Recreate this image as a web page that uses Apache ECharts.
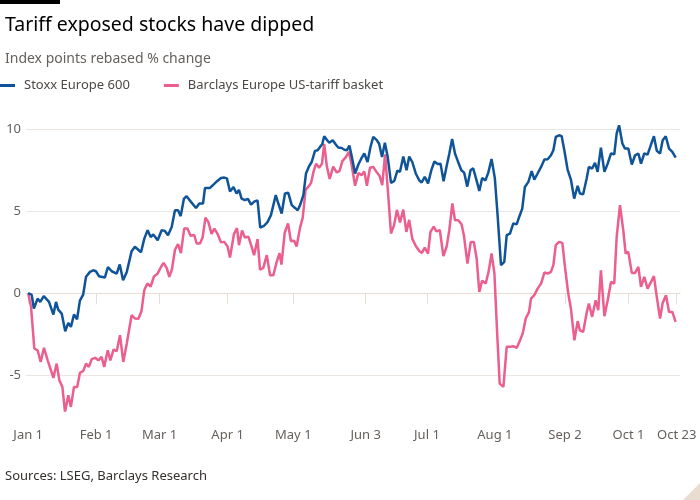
<!DOCTYPE html>
<html>
<head>
<meta charset="utf-8">
<script src="https://cdn.jsdelivr.net/npm/echarts@6/dist/echarts.min.js"></script>
<style>
html,body{margin:0;padding:0;background:#fff;}
#chart{width:700px;height:500px;}
</style>
</head>
<body>
<div id="chart"></div>
<script>
// Day offsets from 1 Jan 2024 for axis ticks
var tickDays = [0, 31, 60, 91, 121, 154, 182, 213, 245, 274, 296];
var tickLabels = ['Jan 1', 'Feb 1', 'Mar 1', 'Apr 1', 'May 1', 'Jun 3', 'Jul 1', 'Aug 1', 'Sep 2', 'Oct 1', 'Oct 23'];
var yTicks = [-5, 0, 5, 10];

// Stoxx Europe 600 (day offset, % change)
var stoxxDays = [0,1.6,2.6,4.3,5.5,7.1,9.5,10.4,11.5,12.7,13.7,15.3,16.9,18.3,19.5,20.9,22.3,23.6,25.1,26.4,28.2,29.7,30.9,32.3,35.0,36.4,38.1,40.4,41.8,43.3,45.0,47.2,48.7,51.5,53.0,54.5,55.9,57.1,59.1,60.9,62.4,63.8,65.5,67.0,68.4,69.6,71.1,72.3,74.3,76.6,78.1,79.8,80.7,83.0,84.8,86.2,88.0,89.5,90.7,92.1,93.7,95.1,96.2,97.4,98.9,100.3,101.7,103.3,104.7,105.9,107.6,109.3,110.8,113.0,114.1,115.7,117.2,118.7,120.3,121.8,123.0,124.1,125.6,126.8,128.2,129.4,130.9,132.1,133.2,134.2,135.1,136.2,137.4,139.0,140.3,141.5,143.1,144.3,145.5,146.6,147.6,149.2,150.7,152.0,153.4,154.9,156.2,157.5,159.1,160.2,161.5,162.8,164.1,165.6,167.1,168.5,169.7,171.2,172.7,173.9,175.3,176.9,178.4,179.6,181.0,182.5,184.0,185.4,186.9,188.2,189.6,191.0,192.2,193.5,194.8,196.1,197.7,199.0,200.4,201.9,203.1,204.7,205.9,207.2,208.7,210.0,211.5,213.0,214.3,215.8,217.3,218.4,219.9,221.4,223.0,224.1,225.5,226.7,228.3,229.8,231.0,232.5,234.1,235.6,237.1,238.6,239.7,240.8,242.3,243.5,244.7,246.2,247.7,249.2,250.8,251.8,253.3,254.9,255.9,257.4,258.7,259.9,261.4,263.0,264.5,266.0,267.5,268.6,269.7,271.2,272.4,273.9,275.5,277.0,278.5,279.7,281.2,282.7,284.3,285.6,286.9,288.4,289.6,291.0,292.5,294.0,295.5];
var stoxxValues = [0,-0.1,-0.93,-0.33,-0.53,-0.18,-0.53,-0.6,-1.3,-0.53,-1.0,-1.24,-2.32,-1.81,-2.05,-1.3,-1.59,-0.45,-0.08,1.0,1.3,1.4,1.34,1.04,0.96,1.6,1.34,1.2,1.75,0.79,1.3,2.56,2.83,2.5,3.33,3.84,3.43,3.58,3.23,3.84,3.8,3.54,4.04,5.06,5.06,4.7,5.77,5.91,5.57,5.2,5.47,5.47,6.42,6.42,6.65,6.83,7.03,7.05,7.0,6.2,6.48,6.08,6.3,5.77,5.67,5.75,5.4,5.6,5.65,4.0,4.1,4.35,4.76,5.98,5.5,4.86,6.08,6.12,5.37,5.2,5.06,5.37,5.98,7.3,7.74,8.0,8.68,8.72,8.92,9.08,9.57,9.37,9.17,9.33,9.08,8.88,8.85,8.75,8.72,9.0,8.4,7.3,7.85,8.2,8.52,8.0,8.9,9.53,9.33,9.1,8.3,9.17,8.3,6.73,6.85,7.48,7.4,8.33,7.5,8.33,8.0,7.3,6.9,6.75,7.1,6.7,7.5,8.03,7.88,7.9,6.83,7.75,8.5,9.41,8.52,8.05,7.5,7.35,6.5,7.5,7.62,6.85,6.23,7.02,6.88,7.35,8.18,7.0,4.65,1.71,1.91,3.54,3.64,4.25,4.21,4.65,5.16,6.48,6.79,7.44,6.93,7.3,7.7,8.15,8.17,8.41,8.72,9.53,9.63,9.57,8.72,7.54,6.93,5.77,6.55,6.08,6.04,7.0,7.7,7.6,7.95,7.4,8.88,7.4,7.9,8.52,8.47,9.74,10.24,9.13,8.82,8.82,7.85,8.41,8.52,7.9,8.52,8.45,9.08,9.57,8.68,8.52,9.33,9.57,8.82,8.62,8.27];

// Barclays Europe US-tariff basket (day offset, % change)
var basketDays = [0,1.3,2.8,4.3,5.7,7.2,8.9,10.4,11.5,13.0,14.2,15.6,16.8,18.3,19.5,20.9,22.4,23.6,25.1,26.4,27.7,29.0,30.5,32.0,33.5,34.7,36.3,37.5,39.0,40.4,41.9,43.4,45.0,47.2,48.7,50.3,51.7,53.0,54.4,55.9,57.4,59.0,60.6,61.8,63.2,64.4,65.6,67.0,68.4,69.7,71.2,72.7,74.1,75.8,76.9,78.4,79.6,80.9,82.2,83.7,85.0,86.5,88.0,89.5,91.0,92.1,93.9,95.3,96.2,97.6,98.9,100.5,101.9,103.1,104.7,105.8,107.3,108.9,110.4,111.9,113.3,114.7,115.6,117.1,118.6,119.9,121.4,122.5,124.1,125.3,126.6,127.8,129.1,130.3,131.4,132.8,134.1,135.1,136.3,137.6,139.2,140.8,142.1,143.4,144.9,146.4,147.6,149.2,150.7,152.2,153.4,154.6,156.0,157.5,159.1,160.4,161.6,162.9,164.1,165.6,167.0,168.3,169.7,171.2,172.6,173.9,175.3,176.9,178.5,179.7,181.0,182.5,183.6,185.1,186.3,187.9,189.5,191.0,192.2,193.6,194.8,196.3,197.8,198.9,200.5,202.0,203.4,204.7,205.9,207.2,208.8,210.2,211.5,212.8,214.0,215.2,216.9,218.4,219.9,221.4,223.0,224.5,225.7,227.1,228.6,229.5,231.0,232.5,234.1,235.6,237.1,238.6,239.7,240.8,242.3,243.8,245.0,246.5,247.7,249.3,250.8,251.8,253.3,254.9,255.9,257.4,259.0,260.2,261.4,263.0,264.5,266.0,267.5,268.6,270.1,271.6,272.7,273.9,275.5,277.0,278.5,279.7,281.2,282.7,284.3,285.6,286.9,288.4,289.6,291.1,292.5,294.0,295.5];
var basketValues = [0,-0.83,-3.37,-3.48,-4.19,-3.33,-4.09,-4.7,-5.16,-4.29,-5.3,-5.71,-7.24,-6.22,-6.93,-5.71,-5.71,-4.86,-4.74,-4.29,-4.49,-4.02,-3.94,-4.09,-3.88,-4.49,-3.48,-4.09,-3.43,-3.54,-2.56,-4.19,-3.07,-1.34,-1.54,-1.56,-1.1,0.2,0.59,0.41,1.02,1.18,1.6,1.85,1.55,1.0,1.45,2.65,3.0,2.44,3.94,3.94,3.5,3.55,3.03,3.03,3.4,4.6,4.35,3.62,3.94,3.6,3.1,3.13,2.85,2.18,3.6,3.97,2.93,3.82,3.4,3.45,2.87,2.32,3.3,1.44,1.55,2.32,1.1,1.1,1.85,2.44,1.75,3.7,4.25,3.18,3.2,2.85,4.0,4.6,6.3,6.48,6.72,7.45,7.9,7.65,7.9,9.1,7.75,6.97,7.72,7.37,7.45,8.05,8.28,8.62,7.85,6.55,7.32,7.2,7.43,6.55,7.65,7.7,7.37,7.15,6.59,8.47,6.38,3.64,4.15,5.08,4.32,5.1,3.74,4.47,3.33,2.88,2.57,2.46,2.78,2.42,3.74,4.06,3.77,3.84,2.26,2.85,3.84,5.47,4.45,4.45,4.2,3.5,1.81,3.13,3.13,2.1,0.08,0.77,0.59,1.35,2.42,1.2,-2.3,-5.51,-5.71,-3.27,-3.27,-3.23,-3.33,-2.87,-2.46,-1.54,-1.14,-0.33,-0.12,0.28,0.59,1.26,1.2,1.3,1.71,2.93,3.13,3.07,1.6,-0.02,-0.93,-2.87,-1.7,-2.26,-2.36,-1.2,-0.63,-1.44,-0.43,-1.04,1.4,-1.4,-0.43,0.69,0.59,3.43,5.37,3.84,2.42,2.52,1.24,1.24,1.6,0.39,1.0,0.28,0.69,1.04,-0.22,-1.54,-0.59,-0.12,-1.14,-1.14,-1.75];

function pairs(xs, ys) {
  var out = [];
  for (var i = 0; i < xs.length; i++) out.push([xs[i], ys[i]]);
  return out;
}

var FONT = 'Noto Sans';
var chart = echarts.init(document.getElementById('chart'), null, {renderer: 'canvas'});
chart.setOption({
  backgroundColor: '#ffffff',
  animation: false,
  textStyle: {fontFamily: FONT},
  title: [
    {text: 'Tariff exposed stocks have dipped', left: 0, top: 10,
     textStyle: {fontFamily: FONT, fontSize: 19.5, fontWeight: 'normal', color: '#000000'}},
    {text: 'Index points rebased % change', left: 0, top: 47,
     textStyle: {fontFamily: FONT, fontSize: 14, fontWeight: 'normal', color: '#66605c'}},
    {text: 'Sources: LSEG, Barclays Research', left: 0, top: 465,
     textStyle: {fontFamily: FONT, fontSize: 13, fontWeight: 'normal', color: '#33302e'}}
  ],
  legend: {
    left: 0, top: 79, padding: 0, itemGap: 34,
    icon: 'rect', itemWidth: 15, itemHeight: 3,
    textStyle: {fontFamily: FONT, fontSize: 13, color: '#4d4845', padding: [0, 0, 0, 4]},
    data: ['Stoxx Europe 600', 'Barclays Europe US-tariff basket']
  },
  graphic: [
    {type: 'rect', left: 0, top: 0, shape: {width: 60, height: 4}, style: {fill: '#000000'}},
    {type: 'polygon', shape: {points: [[683, 500], [700, 483], [700, 500]]}, style: {fill: '#e9ddd0'}}
  ],
  grid: {left: 26, right: 20, top: 121, bottom: 89.5, containLabel: false},
  xAxis: {
    type: 'value', min: -1, max: 297.5,
    splitLine: {show: false},
    axisLine: {show: true, lineStyle: {color: '#e6ddd5', width: 1}},
    axisTick: {show: true, customValues: tickDays, length: 11, lineStyle: {color: '#e6ddd5'}},
    axisLabel: {
      customValues: tickDays, margin: 18,
      fontFamily: FONT, fontSize: 13, color: '#66605c',
      formatter: function (v) { var i = tickDays.indexOf(v); return i >= 0 ? tickLabels[i] : ''; }
    }
  },
  yAxis: {
    type: 'value', min: -7.15, max: 10.5,
    axisLine: {show: false},
    axisTick: {show: false, customValues: yTicks},
    axisLabel: {customValues: yTicks, margin: 5, fontFamily: FONT, fontSize: 13, color: '#66605c'},
    splitLine: {show: true, lineStyle: {color: '#ebe6e1', width: 1}}
  },
  series: [
    {name: 'Stoxx Europe 600', type: 'line', data: pairs(stoxxDays, stoxxValues),
     showSymbol: false, symbol: 'none', lineStyle: {color: '#0f5499', width: 2.5}, itemStyle: {color: '#0f5499'}, z: 3},
    {name: 'Barclays Europe US-tariff basket', type: 'line', data: pairs(basketDays, basketValues),
     showSymbol: false, symbol: 'none', lineStyle: {color: '#eb5e8d', width: 2.5}, itemStyle: {color: '#eb5e8d'}, z: 2}
  ]
});
</script>
</body>
</html>
